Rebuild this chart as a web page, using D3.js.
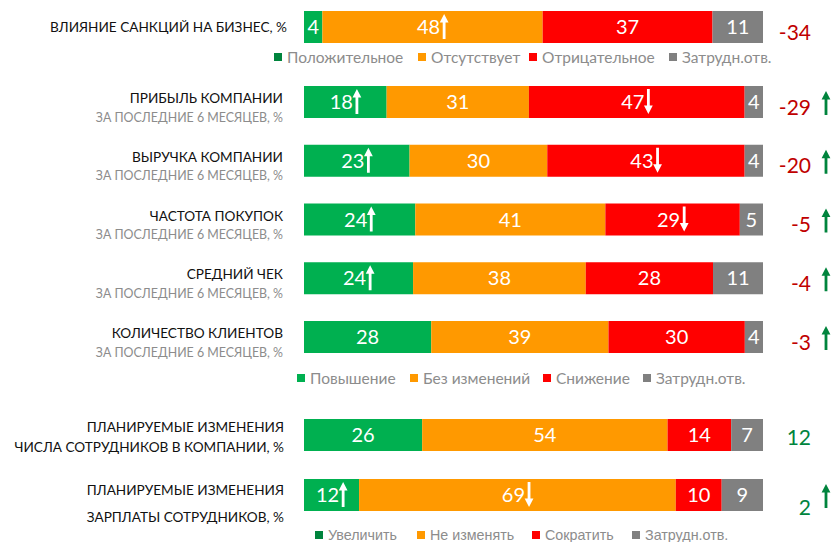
<!DOCTYPE html>
<html><head><meta charset="utf-8">
<script src="https://cdn.jsdelivr.net/npm/d3@7"></script>
<style>
html,body{margin:0;padding:0;background:#fff;}
svg{display:block;}
</style></head>
<body>
<svg id="chart" width="834" height="542"></svg>
<script>
// ---------- DATA ----------
const rowTitles = [
  ["ВЛИЯНИЕ САНКЦИЙ НА БИЗНЕС, %"],
  ["ПРИБЫЛЬ КОМПАНИИ"],
  ["ВЫРУЧКА КОМПАНИИ"],
  ["ЧАСТОТА ПОКУПОК"],
  ["СРЕДНИЙ ЧЕК"],
  ["КОЛИЧЕСТВО КЛИЕНТОВ"],
  ["ПЛАНИРУЕМЫЕ ИЗМЕНЕНИЯ", "ЧИСЛА СОТРУДНИКОВ В КОМПАНИИ, %"],
  ["ПЛАНИРУЕМЫЕ ИЗМЕНЕНИЯ", "ЗАРПЛАТЫ СОТРУДНИКОВ, %"]
];
const rowSubtitles = [null, "ЗА ПОСЛЕДНИЕ 6 МЕСЯЦЕВ, %", "ЗА ПОСЛЕДНИЕ 6 МЕСЯЦЕВ, %", "ЗА ПОСЛЕДНИЕ 6 МЕСЯЦЕВ, %",
  "ЗА ПОСЛЕДНИЕ 6 МЕСЯЦЕВ, %", "ЗА ПОСЛЕДНИЕ 6 МЕСЯЦЕВ, %", null, null];
const positiveValues = [4, 18, 23, 24, 24, 28, 26, 12];
const neutralValues  = [48, 31, 30, 41, 38, 39, 54, 69];
const negativeValues = [37, 47, 43, 29, 28, 30, 14, 10];
const unsureValues   = [11, 4, 4, 5, 11, 4, 7, 9];
const positiveArrows = [null, "up", "up", "up", "up", null, null, "up"];
const neutralArrows  = ["up", null, null, null, null, null, null, "down"];
const negativeArrows = [null, "down", "down", "down", null, null, null, null];
const unsureArrows   = [null, null, null, null, null, null, null, null];
const netValues = [-34, -29, -20, -5, -4, -3, 12, 2];
const netArrows = [null, "up", "up", "up", "up", "up", null, "up"];
const legendSanctions = ["Положительное", "Отсутствует", "Отрицательное", "Затрудн.отв."];
const legendChange    = ["Повышение", "Без изменений", "Снижение", "Затрудн.отв."];
const legendPlans     = ["Увеличить", "Не изменять", "Сократить", "Затрудн.отв."];

// ---------- STYLE / LAYOUT ----------
const segColors = ["#00b050", "#ff9900", "#ff0000", "#808080"];
const legendSquareColorsA = ["#00843d", "#ff9900", "#ff0000", "#808080"];
const legendSquareColorsB = ["#00b050", "#ff9900", "#ff0000", "#808080"];
const netRed = "#c00000", netGreen = "#00843d";
const FONT = "Lato, 'Noto Sans', sans-serif";

const svg = d3.select("#chart");
const barH = 32;
const barLeft = 304, barRight = 763;

function rowTop(i) {
  if (i === 0) return 11;
  if (i <= 5) return 86 + (i - 1) * 58.75;
  return 419 + (i - 6) * 60;
}

function drawArrow(g, cx, y0, y1, dir, color) {
  const hw = 4.4, hh = 8.5, sw = 1.4;
  let p;
  if (dir === "up") {
    p = `M${cx - sw},${y1} L${cx - sw},${y0 + hh} L${cx - hw},${y0 + hh} L${cx},${y0} L${cx + hw},${y0 + hh} L${cx + sw},${y0 + hh} L${cx + sw},${y1} Z`;
  } else {
    p = `M${cx - sw},${y0} L${cx - sw},${y1 - hh} L${cx - hw},${y1 - hh} L${cx},${y1} L${cx + hw},${y1 - hh} L${cx + sw},${y1 - hh} L${cx + sw},${y0} Z`;
  }
  g.append("path").attr("d", p).attr("fill", color);
}

const series = [positiveValues, neutralValues, negativeValues, unsureValues];
const seriesArrows = [positiveArrows, neutralArrows, negativeArrows, unsureArrows];

rowTitles.forEach((title, i) => {
  const top = rowTop(i);
  const vals = series.map(s => s[i]);
  const total = d3.sum(vals);
  const x = d3.scaleLinear().domain([0, total]).range([barLeft, barRight]);
  const g = svg.append("g");
  let acc = 0;
  vals.forEach((v, k) => {
    const x0 = x(acc), x1 = x(acc + v);
    acc += v;
    g.append("rect").attr("x", x0).attr("y", top).attr("width", x1 - x0).attr("height", barH)
      .attr("fill", segColors[k]);
    const cx = (x0 + x1) / 2;
    const arrow = seriesArrows[k][i];
    const t = g.append("text").attr("y", top + barH / 2 + 7).attr("fill", "#fff")
      .attr("font-family", FONT).attr("font-size", 20).text(v);
    if (arrow) {
      const tw = t.node().getComputedTextLength();
      const aw = 8;
      const totalW = tw + aw;
      const start = cx - totalW / 2;
      t.attr("x", start).attr("text-anchor", "start");
      drawArrow(g, start + tw + aw / 2, top + 3, top + barH - 4, arrow, "#fff");
    } else {
      t.attr("x", cx).attr("text-anchor", "middle");
    }
  });

  // labels
  const lab = svg.append("g").attr("font-family", FONT).attr("text-anchor", "end");
  if (i === 0) {
    lab.append("text").attr("x", 287).attr("y", top + 21).attr("font-size", 13.6).attr("fill", "#111").text(title[0]);
  } else if (i <= 5) {
    lab.append("text").attr("x", 283).attr("y", top + 17).attr("font-size", 13.6).attr("fill", "#111").text(title[0]);
    lab.append("text").attr("x", 283).attr("y", top + 35.5).attr("font-size", 12.4).attr("fill", "#8c8c8c").text(rowSubtitles[i]);
  } else {
    const dys = i === 6 ? [13, 33] : [15.5, 43];
    title.forEach((line, j) => {
      lab.append("text").attr("x", 284).attr("y", top + dys[j]).attr("font-size", 13.6).attr("fill", "#111").text(line);
    });
  }

  // net values
  const net = netValues[i];
  const cy = top + barH / 2;
  const netDy = i === 7 ? 20 : (i === 6 ? 10 : 12.5);
  svg.append("text").attr("x", 811).attr("y", cy + netDy).attr("text-anchor", "end")
    .attr("font-family", FONT).attr("font-size", 21)
    .attr("fill", net < 0 ? netRed : netGreen).text(net);
  if (netArrows[i]) {
    drawArrow(svg, 826, cy - 11, cy + 13, netArrows[i], netGreen);
  }
});

// ---------- LEGENDS ----------
function legend(items, colors, xsSquare, y, font, size, sq) {
  const g = svg.append("g");
  items.forEach((name, k) => {
    g.append("rect").attr("x", xsSquare[k]).attr("y", y - sq / 2).attr("width", sq).attr("height", sq).attr("fill", colors[k]);
    g.append("text").attr("x", xsSquare[k] + sq + 5).attr("y", y + size * 0.36)
      .attr("font-family", font).attr("font-size", size).attr("fill", "#8c8c8c").text(name);
  });
}
legend(legendSanctions, legendSquareColorsA, [274, 418, 529, 669], 57, FONT, 15.5, 8);
legend(legendChange, legendSquareColorsB, [297, 410, 543, 643], 378, FONT, 15.5, 8);
legend(legendPlans, legendSquareColorsA, [315, 417, 532, 632], 535, "'Liberation Sans', Arial, sans-serif", 14.3, 8);
</script>
</body></html>
